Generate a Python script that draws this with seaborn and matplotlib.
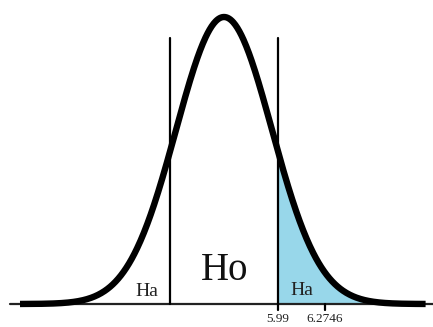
import numpy as np
import matplotlib
matplotlib.use("Agg")
import matplotlib.pyplot as plt
import seaborn as sns

# curve in standard units (z), peak scaled to 1
z_start, z_end = -4.25, 4.2
crit_z = [-1.12, 1.12]
tick_z = [1.12, 2.1]
tick_labels = ["5.99", "6.2746"]
region_labels = ["Ha", "Ho", "Ha"]
region_z = [-1.6, 0.02, 1.63]

z = np.linspace(z_start, z_end, 600)
h = np.exp(-z ** 2 / 2)

sns.set_style("white")
plt.rcParams["font.family"] = ["Liberation Serif", "DejaVu Serif"]

fig = plt.figure(figsize=(4.33, 3.27), dpi=100)
ax = fig.add_axes([0, 0, 1, 1])

# shaded right tail
mask = z >= crit_z[1]
ax.fill_between(z[mask], 0, h[mask], color="#98d7ea", lw=0, zorder=1)

# baseline
ax.plot([-4.46, 4.4], [0, 0], color="#222222", lw=1.6, zorder=2)

sns.lineplot(x=z, y=h, ax=ax, color="black", lw=4.6, zorder=4)
ax.lines[-1].set_solid_capstyle("butt")

# critical lines
ax.plot([crit_z[0]] * 2, [0, 0.927], color="black", lw=1.6, zorder=3)
ax.plot([crit_z[1]] * 2, [-0.021, 0.927], color="black", lw=1.6, zorder=3)
ax.plot([tick_z[1]] * 2, [-0.021, 0], color="black", lw=1.6, zorder=3)

for tz, lab in zip(tick_z, tick_labels):
    ax.text(tz, -0.074, lab, ha="center", va="bottom", fontsize=9.5, color="#222222")

ax.text(region_z[0], 0.028, region_labels[0], ha="center", va="baseline", fontsize=14, color="#222222")
ax.text(region_z[1], 0.084, region_labels[1], ha="center", va="baseline", fontsize=28, color="#111111")
ax.text(region_z[2], 0.033, region_labels[2], ha="center", va="baseline", fontsize=14, color="#222222")

ax.set_xlim(-224 / 48, 209 / 48)
ax.set_ylim(-23 / 287, 304 / 287)
ax.axis("off")

fig.savefig("out.png", dpi=100, facecolor="white")
